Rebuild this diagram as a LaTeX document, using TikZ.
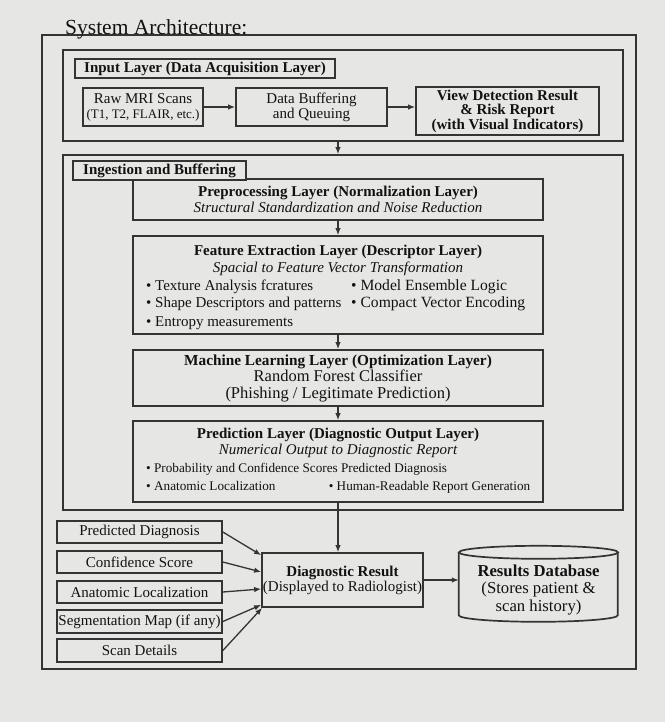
\documentclass[tikz,border=0pt]{standalone}
\usepackage{fontspec}
\setmainfont{Liberation Serif}
\usetikzlibrary{arrows.meta,calc}
\definecolor{bgc}{RGB}{230,230,228}
\definecolor{linec}{RGB}{52,52,52}
\definecolor{txtc}{RGB}{18,18,18}
\begin{document}
\begin{tikzpicture}[x=1pt,y=-1pt,
  box/.style={draw=linec,line width=1.7pt,fill=bgc,inner sep=0pt,text=txtc,align=center},
  lbl/.style={inner sep=0pt,text=txtc},
  arr/.style={draw=linec,line width=1.3pt,-{Latex[length=7pt,width=5.5pt]}},
  fa/.style={font=\fontsize{15}{15}\selectfont},
  fb/.style={font=\fontsize{15}{15}\selectfont\bfseries},
  fi/.style={font=\fontsize{15}{15}\selectfont\itshape},
  fs/.style={font=\fontsize{13.2}{13.2}\selectfont}]
\useasboundingbox[fill=bgc] (0,0) rectangle (665,722);

% outer frame and title
\node[box,minimum width=594pt,minimum height=634pt] (frame) at (339,352) {};
\node[lbl,anchor=base west,font=\fontsize{21.5}{21.5}\selectfont] (title) at (65,34.5) {System Architecture:};

% input layer
\node[box,minimum width=560pt,minimum height=91pt] (inputbox) at (343,95.5) {};
\node[box,fb,minimum width=260pt,minimum height=19pt] (inlabel) at (205,68.5) {Input Layer (Data Acquisition Layer)};
\node[box,fa,minimum width=120pt,minimum height=38pt] (raw) at (143,107) {Raw MRI Scans\\{\fontsize{13}{13}\selectfont (T1, T2, FLAIR, etc.)}};
\node[box,fa,minimum width=151pt,minimum height=38pt] (buff) at (311.5,107) {Data Buffering\\and Queuing};
\node[box,font=\fontsize{15}{14.5}\selectfont\bfseries,minimum width=183pt,minimum height=48pt] (view) at (507.5,111) {View Detection Result\\\& Risk Report\\(with Visual Indicators)};

% ingestion and buffering
\node[box,minimum width=560pt,minimum height=355pt] (ingest) at (343,332.5) {};
\node[box,fa,minimum width=410pt,minimum height=41pt] (prep) at (338,199.5) {{\bfseries Preprocessing Layer (Normalization Layer)}\\[1pt]{\itshape Structural Standardization and Noise Reduction}};
\node[box,fb,minimum width=173pt,minimum height=19pt] (inglabel) at (159.5,170.5) {Ingestion and Buffering};

% feature extraction
\node[box,minimum width=410pt,minimum height=98pt] (feat) at (338,285) {};
\node[lbl,fb,anchor=base] (feattitle) at (338,255) {Feature Extraction Layer (Descriptor Layer)};
\node[lbl,fi,anchor=base] (featsub) at (338,272) {Spacial to Feature Vector Transformation};
\node[lbl,fa,anchor=base west] (fb1) at (146,290) {\textbullet\ Texture Analysis fcratures};
\node[lbl,fa,anchor=base west] (fb2) at (146,307.5) {\textbullet\ Shape Descriptors and patterns};
\node[lbl,fa,anchor=base west] (fb3) at (146,326) {\textbullet\ Entropy measurements};
\node[lbl,font=\fontsize{15.6}{15.6}\selectfont,anchor=base west] (fb4) at (351,290) {\textbullet\ Model Ensemble Logic};
\node[lbl,font=\fontsize{15.6}{15.6}\selectfont,anchor=base west] (fb5) at (351,307.5) {\textbullet\ Compact Vector Encoding};

% machine learning
\node[box,font=\fontsize{16.5}{16.5}\selectfont,minimum width=410pt,minimum height=56pt] (ml) at (338,378) {{\fontsize{15.3}{16.5}\selectfont\bfseries Machine Learning Layer (Optimization Layer)}\\Random Forest Classifier\\(Phishing / Legitimate Prediction)};

% prediction
\node[box,minimum width=410pt,minimum height=81pt] (pred) at (338,461.5) {};
\node[lbl,fb,anchor=base] (predtitle) at (338,438) {Prediction Layer (Diagnostic Output Layer)};
\node[lbl,fi,anchor=base] (predsub) at (338,454.5) {Numerical Output to Diagnostic Report};
\node[lbl,fs,anchor=base west] (pb1) at (146,472) {\textbullet\ Probability and Confidence Scores Predicted Diagnosis};
\node[lbl,fs,anchor=base west] (pb2) at (146,490) {\textbullet\ Anatomic Localization};
\node[lbl,fs,anchor=base west] (pb3) at (328.6,490) {\textbullet\ Human-Readable Report Generation};

% result area
\node[box,fa,minimum width=161pt,minimum height=54pt] (diag) at (342.5,580) {{\bfseries Diagnostic Result}\\(Displayed to Radiologist)};
\node[box,fa,minimum width=165pt,minimum height=22pt] (pd) at (139.5,532) {Predicted Diagnosis};
\node[box,fa,minimum width=165pt,minimum height=22pt] (cs) at (139.5,562) {Confidence Score};
\node[box,fa,minimum width=165pt,minimum height=22pt] (al) at (139.5,592) {Anatomic Localization};
\node[box,fa,minimum width=165pt,minimum height=23pt] (sm) at (139.5,621.5) {Segmentation Map (if any)};
\node[box,fa,minimum width=165pt,minimum height=23pt] (sd) at (139.5,650.5) {Scan Details};

% database cylinder
\node[inner sep=0pt,minimum width=159pt,minimum height=76pt] (db) at (538.5,584) {};
\draw[draw=linec,line width=1.7pt] ($(db.north west)+(0,6.5)$) -- ++(0,63)
  arc[start angle=180,end angle=360,x radius=79.5pt,y radius=6.5pt] -- ++(0,-63);
\draw[draw=linec,line width=1.7pt] ($(db.north)+(0,6.5)$) ellipse[x radius=79.5pt,y radius=6.5pt];
\node[lbl,align=center,font=\fontsize{16.7}{17.5}\selectfont] (dbtext) at (538.5,590) {{\bfseries Results Database}\\(Stores patient \&\\scan history)};

% connectors
\draw[arr] (raw.east) -- (buff.west);
\draw[arr] (buff.east) -- (buff.east -| view.west);
\draw[arr] (inputbox.south -| prep.north) -- (ingest.north -| prep.north);
\draw[arr] (prep.south) -- (feat.north);
\draw[arr] (feat.south) -- (ml.north);
\draw[arr] (ml.south) -- (pred.north);
\draw[arr] (pred.south) -- (pred.south |- diag.north);
\draw[arr] (pd.east) -- ($(diag.north west)+(0,3)$);
\draw[arr] (cs.east) -- ($(diag.west)+(0,-8)$);
\draw[arr] (al.east) -- ($(diag.west)+(0,9)$);
\draw[arr] (sm.east) -- ($(diag.south west)+(0,-3)$);
\draw[arr] (sd.east) -- ($(diag.south west)+(1,0)$);
\draw[arr] (diag.east) -- (diag.east -| db.west);
\end{tikzpicture}
\end{document}
